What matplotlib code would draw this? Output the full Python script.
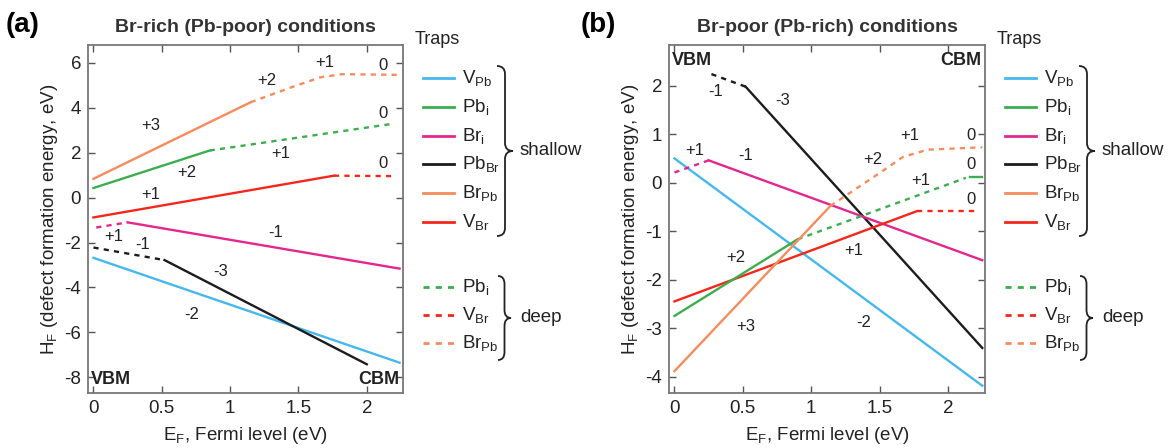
import matplotlib
matplotlib.use("Agg")
import matplotlib.pyplot as plt
from matplotlib.path import Path
from matplotlib.patches import PathPatch
from matplotlib.lines import Line2D

plt.rcParams["font.family"] = ["Liberation Sans", "DejaVu Sans"]
plt.rcParams["mathtext.default"] = "regular"
plt.rcParams["axes.unicode_minus"] = False

# ---- panel (a): Br-rich (Pb-poor) ----
a_vpb_x, a_vpb_y = [0, 2.24], [-2.68, -7.35]
a_pbbr_dot_x, a_pbbr_dot_y = [0, 0.52], [-2.22, -2.78]
a_pbbr_x, a_pbbr_y = [0.52, 2.0], [-2.78, -7.42]
a_bri_dot_x, a_bri_dot_y = [0.02, 0.25], [-1.33, -1.1]
a_bri_x, a_bri_y = [0.25, 2.24], [-1.1, -3.16]
a_vbr_x, a_vbr_y = [0, 1.76], [-0.88, 0.98]
a_vbr_dot_x, a_vbr_dot_y = [1.76, 2.2], [0.98, 0.96]
a_pbi_x, a_pbi_y = [0, 0.85], [0.43, 2.1]
a_pbi_dot_x, a_pbi_dot_y = [0.85, 2.2], [2.1, 3.3]
a_brpb_x, a_brpb_y = [0, 1.15], [0.84, 4.25]
a_brpb_dot_x = [1.15, 1.45, 1.66, 1.82, 2.22]
a_brpb_dot_y = [4.25, 4.92, 5.36, 5.5, 5.47]

a_labels = [("+1", 1.69, 6.04), ("0", 2.12, 5.9), ("+2", 1.27, 5.2),
            ("+3", 0.42, 3.2), ("0", 2.12, 3.77), ("+1", 1.37, 1.96),
            ("+2", 0.68, 1.1), ("0", 2.12, 1.5), ("+1", 0.42, 0.13),
            ("-1", 1.33, -1.56), ("+1", 0.15, -1.73), ("-1", 0.36, -2.1),
            ("-3", 0.93, -3.3), ("-2", 0.72, -5.2)]

# ---- panel (b): Br-poor (Pb-rich) ----
b_vpb_x, b_vpb_y = [0, 2.25], [0.5, -4.19]
b_pbbr_dot_x, b_pbbr_dot_y = [0.27, 0.52], [2.24, 1.98]
b_pbbr_x, b_pbbr_y = [0.52, 2.25], [1.98, -3.41]
b_bri_dot_x, b_bri_dot_y = [0, 0.25], [0.21, 0.46]
b_bri_x, b_bri_y = [0.25, 2.25], [0.46, -1.6]
b_vbr_x, b_vbr_y = [0, 1.77], [-2.45, -0.59]
b_vbr_dot_x, b_vbr_dot_y = [1.77, 2.21], [-0.59, -0.59]
b_pbi_x, b_pbi_y = [0, 0.9], [-2.75, -1.17]
b_pbi_dot_x, b_pbi_dot_y = [0.9, 2.13], [-1.17, 0.1]
b_pbi_end_x, b_pbi_end_y = [2.16, 2.25], [0.12, 0.12]
b_brpb_x, b_brpb_y = [0, 1.14], [-3.89, -0.48]
b_brpb_dot_x = [1.14, 1.5, 1.67, 1.85, 2.25]
b_brpb_dot_y = [-0.48, 0.2, 0.53, 0.68, 0.73]

b_labels = [("-1", 0.3, 1.89), ("-3", 0.79, 1.69), ("+1", 0.15, 0.66),
            ("-1", 0.52, 0.55), ("+1", 1.72, 0.97), ("0", 2.17, 0.97),
            ("+2", 1.45, 0.48), ("0", 2.17, 0.37), ("+1", 1.8, 0.04),
            ("0", 2.17, -0.34), ("+2", 0.45, -1.54), ("+1", 1.31, -1.4),
            ("+3", 0.52, -2.97), ("-2", 1.38, -2.88)]

shallow_names = ["V$_{Pb}$", "Pb$_{i}$", "Br$_{i}$", "Pb$_{Br}$", "Br$_{Pb}$", "V$_{Br}$"]
deep_names = ["Pb$_{i}$", "V$_{Br}$", "Br$_{Pb}$"]

C_BLUE = "#45b8ee"
C_GREEN = "#3cae4f"
C_MAG = "#e3278f"
C_BLACK = "#1c1c1c"
C_ORANGE = "#f68c5e"
C_RED = "#f5261c"
shallow_colors = [C_BLUE, C_GREEN, C_MAG, C_BLACK, C_ORANGE, C_RED]
deep_colors = [C_GREEN, C_RED, C_ORANGE]

LW = 1.7
DASH = (0, (2.2, 2.2))

W, H = 1168, 448
fig = plt.figure(figsize=(W / 100, H / 100), dpi=100)


def px(x, y):
    return x / W, 1 - y / H


def style_axes(ax, xlim, ylim, yticks):
    ax.set_xlim(*xlim)
    ax.set_ylim(*ylim)
    ax.set_xticks([0, 0.5, 1, 1.5, 2], ["0", "0.5", "1", "1.5", "2"])
    ax.set_yticks(yticks)
    ax.tick_params(direction="in", top=True, right=True, length=5, width=1,
                   color="#555555", labelsize=13.5, pad=5, labelcolor="#222222")
    for s in ax.spines.values():
        s.set_color("#777777")
        s.set_linewidth(1.3)
    ax.set_xlabel("E$_F$, Fermi level (eV)", fontsize=13.5, labelpad=6, color="#222222")
    ax.set_ylabel("H$_F$ (defect formation energy, eV)", fontsize=13.5, labelpad=3,
                  color="#222222")


def brace(x0, ytop, ybot, w):
    # right-pointing curly brace, pixel coords
    ym = (ytop + ybot) / 2
    r = 8
    verts = [(x0, ytop), (x0 + w / 2, ytop), (x0 + w / 2, ytop + r),
             (x0 + w / 2, ym - r), (x0 + w / 2, ym), (x0 + w, ym),
             (x0 + w / 2, ym), (x0 + w / 2, ym + r),
             (x0 + w / 2, ybot - r), (x0 + w / 2, ybot), (x0, ybot)]
    codes = [Path.MOVETO, Path.CURVE3, Path.CURVE3, Path.LINETO, Path.CURVE3, Path.CURVE3,
             Path.CURVE3, Path.CURVE3, Path.LINETO, Path.CURVE3, Path.CURVE3]
    verts = [px(vx, vy) for vx, vy in verts]
    fig.add_artist(PathPatch(Path(verts, codes), transform=fig.transFigure,
                             fill=False, lw=1.3, color="#222222"))


def legend(xr):
    fig.text(*px(xr + 12, 40), "Traps", fontsize=13, va="center", ha="left", color="#222222")
    ys = [78, 107, 136, 164, 193, 222]
    for name, c, y in zip(shallow_names, shallow_colors, ys):
        fig.add_artist(Line2D([px(xr + 20, y)[0], px(xr + 51, y)[0]], [px(0, y)[1]] * 2,
                              transform=fig.transFigure, color=c, lw=2))
        fig.text(*px(xr + 59, y), name, fontsize=13.5, va="center", ha="left", color="#222222")
    yd = [287, 315, 343]
    for name, c, y in zip(deep_names, deep_colors, yd):
        fig.add_artist(Line2D([px(xr + 20, y)[0], px(xr + 51, y)[0]], [px(0, y)[1]] * 2,
                              transform=fig.transFigure, color=c, lw=2, linestyle=DASH))
        fig.text(*px(xr + 59, y), name, fontsize=13.5, va="center", ha="left", color="#222222")
    brace(xr + 94, 66, 236, 16)
    fig.text(*px(xr + 117, 150), "shallow", fontsize=13.5, va="center", ha="left", color="#222222")
    brace(xr + 95, 276, 360, 13)
    fig.text(*px(xr + 117, 317), "deep", fontsize=13.5, va="center", ha="left", color="#222222")


# ---------------- panel (a) ----------------
axa = fig.add_axes([88 / W, 1 - 393 / H, 315 / W, 348 / H])
axa.plot(a_vpb_x, a_vpb_y, color=C_BLUE, lw=LW)
axa.plot(a_pbbr_dot_x, a_pbbr_dot_y, color=C_BLACK, lw=LW, linestyle=DASH)
axa.plot(a_pbbr_x, a_pbbr_y, color=C_BLACK, lw=LW)
axa.plot(a_bri_dot_x, a_bri_dot_y, color=C_MAG, lw=LW, linestyle=DASH)
axa.plot(a_bri_x, a_bri_y, color=C_MAG, lw=LW)
axa.plot(a_vbr_x, a_vbr_y, color=C_RED, lw=LW)
axa.plot(a_vbr_dot_x, a_vbr_dot_y, color=C_RED, lw=LW, linestyle=DASH)
axa.plot(a_pbi_x, a_pbi_y, color=C_GREEN, lw=LW)
axa.plot(a_pbi_dot_x, a_pbi_dot_y, color=C_GREEN, lw=LW, linestyle=DASH)
axa.plot(a_brpb_x, a_brpb_y, color=C_ORANGE, lw=LW)
axa.plot(a_brpb_dot_x, a_brpb_dot_y, color=C_ORANGE, lw=LW, linestyle=DASH)
for t, x, y in a_labels:
    axa.text(x, y, t, fontsize=12, ha="center", va="center", color="#222222")
axa.text(0.01, 0.04, "VBM", transform=axa.transAxes, fontsize=13, fontweight="bold",
         ha="left", va="center", color="#222222")
axa.text(0.99, 0.04, "CBM", transform=axa.transAxes, fontsize=13, fontweight="bold",
         ha="right", va="center", color="#222222")
style_axes(axa, (-0.04, 2.265), (-8.7, 6.8), [-8, -6, -4, -2, 0, 2, 4, 6])
axa.set_title("Br-rich (Pb-poor) conditions", fontsize=14, fontweight="bold",
              pad=9, color="#333333")
fig.text(*px(6, 25), "(a)", fontsize=20, fontweight="bold", va="center", ha="left")
legend(403)

# ---------------- panel (b) ----------------
axb = fig.add_axes([669 / W, 1 - 393 / H, 316 / W, 348 / H])
axb.plot(b_vpb_x, b_vpb_y, color=C_BLUE, lw=LW)
axb.plot(b_pbbr_dot_x, b_pbbr_dot_y, color=C_BLACK, lw=LW, linestyle=DASH)
axb.plot(b_pbbr_x, b_pbbr_y, color=C_BLACK, lw=LW)
axb.plot(b_bri_dot_x, b_bri_dot_y, color=C_MAG, lw=LW, linestyle=DASH)
axb.plot(b_bri_x, b_bri_y, color=C_MAG, lw=LW)
axb.plot(b_vbr_x, b_vbr_y, color=C_RED, lw=LW)
axb.plot(b_vbr_dot_x, b_vbr_dot_y, color=C_RED, lw=LW, linestyle=DASH)
axb.plot(b_pbi_x, b_pbi_y, color=C_GREEN, lw=LW)
axb.plot(b_pbi_dot_x, b_pbi_dot_y, color=C_GREEN, lw=LW, linestyle=DASH)
axb.plot(b_pbi_end_x, b_pbi_end_y, color=C_GREEN, lw=LW)
axb.plot(b_brpb_x, b_brpb_y, color=C_ORANGE, lw=LW)
axb.plot(b_brpb_dot_x, b_brpb_dot_y, color=C_ORANGE, lw=LW, linestyle=DASH)
for t, x, y in b_labels:
    axb.text(x, y, t, fontsize=12, ha="center", va="center", color="#222222")
axb.text(0.01, 0.955, "VBM", transform=axb.transAxes, fontsize=13, fontweight="bold",
         ha="left", va="center", color="#222222")
axb.text(0.99, 0.955, "CBM", transform=axb.transAxes, fontsize=13, fontweight="bold",
         ha="right", va="center", color="#222222")
style_axes(axb, (-0.04, 2.27), (-4.34, 2.84), [-4, -3, -2, -1, 0, 1, 2])
axb.set_title("Br-poor (Pb-rich) conditions", fontsize=14, fontweight="bold",
              pad=9, color="#333333")
fig.text(*px(581, 25), "(b)", fontsize=20, fontweight="bold", va="center", ha="left")
legend(985)

fig.savefig("out.png", dpi=100)
